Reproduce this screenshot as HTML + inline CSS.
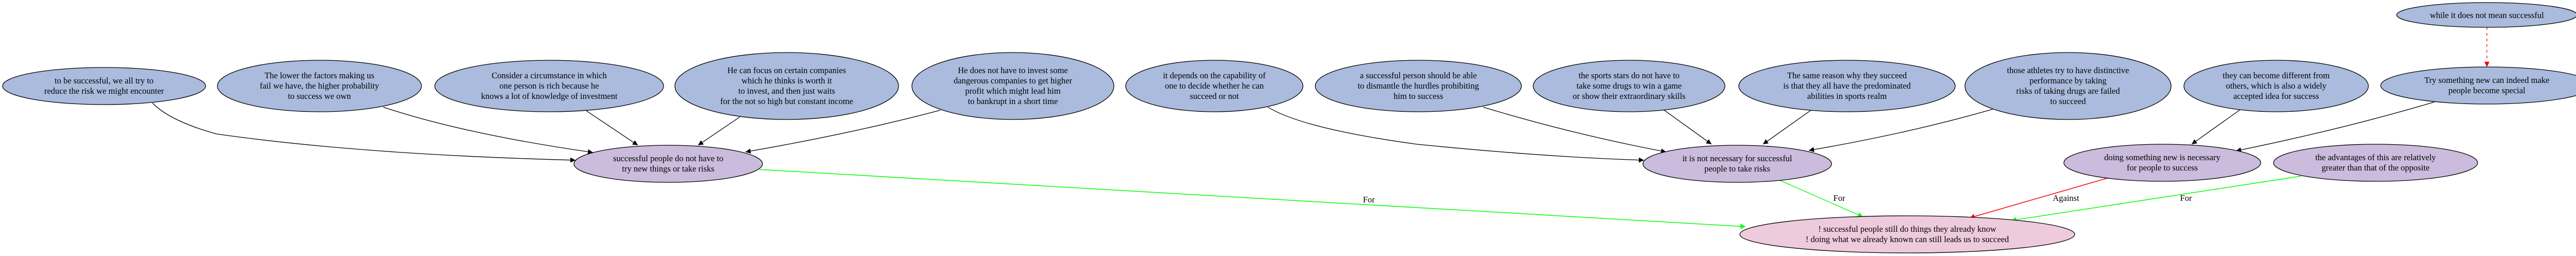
<!DOCTYPE html>
<html><head><meta charset="utf-8"><style>
html,body{margin:0;padding:0;background:#fff;}
svg{display:block;}
text{font-family:"Liberation Serif",serif;font-size:16.5px;fill:#000;text-anchor:middle;}
.b{fill:#aabbdd;stroke:#000;stroke-width:1.3;}
.p{fill:#cbbbdc;stroke:#000;stroke-width:1.3;}
.k{fill:#eecbdc;stroke:#000;stroke-width:1.3;}
.e{fill:none;stroke:#000;stroke-width:1.3;}
</style></head><body>
<svg width="5038" height="497" viewBox="0 0 5038 497" xmlns="http://www.w3.org/2000/svg">
<defs>
<marker id="ab" viewBox="0 0 10 10" refX="10" refY="5" markerWidth="10" markerHeight="10" markerUnits="userSpaceOnUse" orient="auto"><path d="M0,0L10,5L0,10z" fill="#000"/></marker>
<marker id="ag" viewBox="0 0 10 10" refX="10" refY="5" markerWidth="10" markerHeight="10" markerUnits="userSpaceOnUse" orient="auto"><path d="M0,0L10,5L0,10z" fill="#0f0"/></marker>
<marker id="ar" viewBox="0 0 10 10" refX="10" refY="5" markerWidth="10" markerHeight="10" markerUnits="userSpaceOnUse" orient="auto"><path d="M0,0L10,5L0,10z" fill="#f00"/></marker>
</defs>

<!-- edges -->
<path class="e" marker-end="url(#ab)" d="M296,200 Q330,235 420,260 Q700,300 1117,311"/>
<path class="e" marker-end="url(#ab)" d="M744,208 Q900,260 1151,296"/>
<path class="e" marker-end="url(#ab)" d="M1138,215 L1238,282"/>
<path class="e" marker-end="url(#ab)" d="M1436,227 L1355,282"/>
<path class="e" marker-end="url(#ab)" d="M1825,214 Q1650,260 1447,295"/>
<path fill="none" stroke="#0f0" stroke-width="1.5" marker-end="url(#ag)" d="M1474,329 L3388,440"/>
<path class="e" marker-end="url(#ab)" d="M2461,208 Q2530,250 2750,280 Q3000,305 3191,311"/>
<path class="e" marker-end="url(#ab)" d="M2879,208 Q3050,260 3234,295"/>
<path class="e" marker-end="url(#ab)" d="M3229,213 L3322,280"/>
<path class="e" marker-end="url(#ab)" d="M3515,214 L3422,280"/>
<path class="e" marker-end="url(#ab)" d="M3868,212 Q3700,260 3511,292"/>
<path fill="none" stroke="#0f0" stroke-width="1.3" marker-end="url(#ag)" d="M3450,348 L3616,421"/>
<path class="e" marker-end="url(#ab)" d="M4348,213 L4254,280"/>
<path class="e" marker-end="url(#ab)" d="M4725,198 Q4550,250 4340,293"/>
<path fill="none" stroke="#f00" stroke-width="1.3" stroke-dasharray="5,6" marker-end="url(#ar)" d="M4827,53 L4827,130"/>
<path fill="none" stroke="#f00" stroke-width="1.5" marker-end="url(#ar)" d="M4090,346 L3823,423"/>
<path fill="none" stroke="#0f0" stroke-width="1.5" marker-end="url(#ag)" d="M4466,342 L3904,428"/>

<text x="2657" y="393">For</text>
<text x="3570" y="390">For</text>
<text x="4010" y="390">Against</text>
<text x="4243" y="390">For</text>

<!-- nodes -->
<ellipse class="b" cx="202" cy="167" rx="197" ry="36"/>
<text x="202" y="162">to be successful, we all try to</text><text x="202" y="182">reduce the risk we might encounter</text>

<ellipse class="b" cx="620" cy="167" rx="198" ry="50"/>
<text x="620" y="152">The lower the factors making us</text><text x="620" y="172">fail we have, the higher probability</text><text x="620" y="192">to success we own</text>

<ellipse class="b" cx="1066" cy="167" rx="222" ry="50"/>
<text x="1066" y="152">Consider a circumstance in which</text><text x="1066" y="172">one person is rich because he</text><text x="1066" y="192">knows a lot of knowledge of investment</text>

<ellipse class="b" cx="1527" cy="167" rx="217" ry="65"/>
<text x="1527" y="142">He can focus on certain companies</text><text x="1527" y="162">which he thinks is worth it</text><text x="1527" y="182">to invest, and then just waits</text><text x="1527" y="202">for the not so high but constant income</text>

<ellipse class="b" cx="1966" cy="167" rx="196" ry="65"/>
<text x="1966" y="142">He does not have to invest some</text><text x="1966" y="162">dangerous companies to get higher</text><text x="1966" y="182">profit which might lead him</text><text x="1966" y="202">to bankrupt in a short time</text>

<ellipse class="b" cx="2357" cy="167" rx="172" ry="50"/>
<text x="2357" y="152">it depends on the capability of</text><text x="2357" y="172">one to decide whether he can</text><text x="2357" y="192">succeed or not</text>

<ellipse class="b" cx="2753" cy="167" rx="200" ry="50"/>
<text x="2753" y="152">a successful person should be able</text><text x="2753" y="172">to dismantle the hurdles prohibiting</text><text x="2753" y="192">him to success</text>

<ellipse class="b" cx="3162" cy="167" rx="186" ry="50"/>
<text x="3162" y="152">the sports stars do not have to</text><text x="3162" y="172">take some drugs to win a game</text><text x="3162" y="192">or show their extraordinary skills</text>

<ellipse class="b" cx="3585" cy="167" rx="210" ry="50"/>
<text x="3585" y="152">The same reason why they succeed</text><text x="3585" y="172">is that they all have the predominated</text><text x="3585" y="192">abilities in sports realm</text>

<ellipse class="b" cx="4014" cy="167" rx="200" ry="65"/>
<text x="4014" y="142">those athletes try to have distinctive</text><text x="4014" y="162">performance by taking</text><text x="4014" y="182">risks of taking drugs are failed</text><text x="4014" y="202">to succeed</text>

<ellipse class="b" cx="4418" cy="167" rx="179" ry="50"/>
<text x="4418" y="152">they can become different from</text><text x="4418" y="172">others, which is also a widely</text><text x="4418" y="192">accepted idea for success</text>

<ellipse class="b" cx="4827" cy="166" rx="206" ry="36"/>
<text x="4827" y="161">Try something new can indeed make</text><text x="4827" y="181">people become special</text>

<ellipse class="b" cx="4827" cy="29" rx="175" ry="24"/>
<text x="4827" y="35">while it does not mean successful</text>

<ellipse class="p" cx="1297" cy="318" rx="183" ry="36"/>
<text x="1297" y="313">successful people do not have to</text><text x="1297" y="333">try new things or take risks</text>

<ellipse class="p" cx="3372" cy="318" rx="183" ry="36"/>
<text x="3372" y="313">it is not necessary for successful</text><text x="3372" y="333">people to take risks</text>

<ellipse class="p" cx="4197" cy="316" rx="191" ry="36"/>
<text x="4197" y="311">doing something new is necessary</text><text x="4197" y="331">for people to success</text>

<ellipse class="p" cx="4611" cy="316" rx="198" ry="36"/>
<text x="4611" y="311">the advantages of this are relatively</text><text x="4611" y="331">greater than that of the opposite</text>

<ellipse class="k" cx="3702" cy="455" rx="325" ry="36"/>
<text x="3702" y="450">! successful people still do things they already know</text><text x="3702" y="470">! doing what we already known can still leads us to succeed</text>
</svg>
</body></html>
